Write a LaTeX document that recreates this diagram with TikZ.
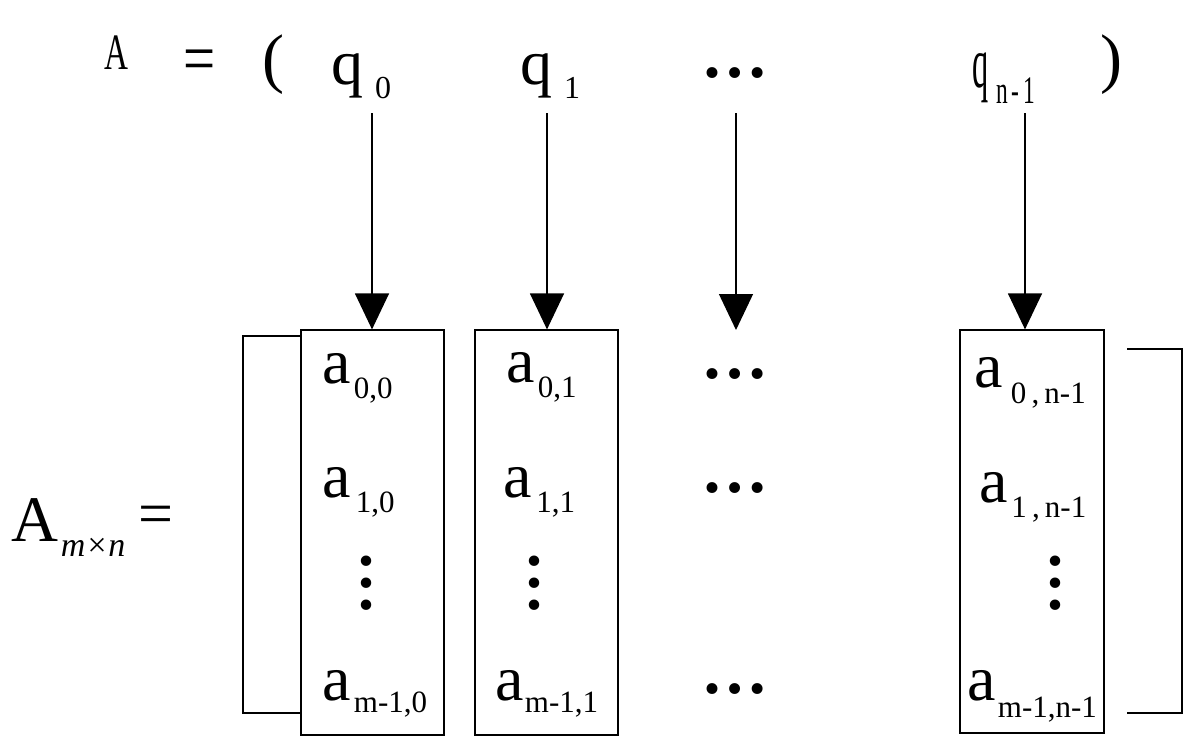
\documentclass[tikz,border=0pt]{standalone}
\usepackage{fontspec}
\setmainfont{Liberation Serif}
\usetikzlibrary{arrows.meta}
\newcommand\mEnt[3]{a\hspace{#3pt}\raisebox{-#2pt}{\fontsize{31}{31}\selectfont #1}}
\tikzset{
  txt/.style={inner sep=0pt, outer sep=0pt, anchor=base west},
  big/.style={font=\fontsize{64}{64}\selectfont},
  colbox/.style={draw, line width=1.2pt, inner sep=0pt, minimum width=143pt, minimum height=405pt},
  arr/.style={line width=1.3pt, -{Triangle[width=34pt,length=36pt]}},
  brk/.style={line width=1.1pt},
  hdots/.style={inner sep=0pt, anchor=center, font=\fontsize{67}{67}\selectfont\bfseries},
  vdotsn/.style={inner sep=0pt, anchor=center, align=center, font=\fontsize{64}{22}\selectfont\bfseries}
}
\begin{document}
\begin{tikzpicture}[x=1pt,y=-1pt]
\useasboundingbox (0,0) rectangle (1184,739);
% top row
\node[txt, font=\fontsize{51}{51}\selectfont] (Atop) at (104,69) {\scalebox{0.65}[1]{A}};
\node[txt, font=\fontsize{57}{57}\selectfont] (eqtop) at (183,82) {\scalebox{1}[1.25]{=}};
\node[txt, font=\fontsize{66}{66}\selectfont] (lp) at (262,80) {(};
\node[txt, big] (q0) at (331,84) {q\hspace{12pt}\raisebox{-14pt}{\fontsize{32}{32}\selectfont 0}};
\node[txt, big] (q1) at (520,84) {q\hspace{12pt}\raisebox{-14pt}{\fontsize{32}{32}\selectfont 1}};
\node[hdots] (qd) at (734.5,73) {…};
\node[txt, font=\fontsize{72}{72}\selectfont] (qn) at (972,87) {\scalebox{0.45}[1]{q}\hspace{8pt}\raisebox{-16pt}{\scalebox{0.6}[1]{\fontsize{39}{39}\selectfont n\,-\,1}}};
\node[txt, font=\fontsize{66}{66}\selectfont] (rp) at (1100,80) {)};
% arrow starts and the free end
\coordinate (s0) at (372,113);
\coordinate (s1) at (547,113);
\coordinate (s2) at (736,113);
\coordinate (s3) at (1025,113);
\coordinate (e2) at (736,330);
% column boxes
\node[colbox] (c0) at (372.5,532.5) {};
\node[colbox] (c1) at (546.5,532.5) {};
\node[colbox, minimum width=144pt, minimum height=403pt] (c3) at (1032,531.5) {};
% arrows
\draw[arr] (s0) -- (s0 |- c0.north);
\draw[arr] (s1) -- (s1 |- c1.north);
\draw[arr] (s2) -- (e2);
\draw[arr] (s3) -- (s3 |- c3.north);
% brackets
\draw[brk] (301,336) -- (243,336) -- (243,713) -- (301,713);
\draw[brk] (1127,349) -- (1182,349) -- (1182,713) -- (1127,713);
% left label
\node[txt, font=\fontsize{65}{65}\selectfont] (Amn) at (11,541) {A\hspace{3pt}\raisebox{-15pt}{\fontsize{34}{34}\selectfont\itshape m×n}};
\node[txt, font=\fontsize{62}{62}\selectfont] (eqmn) at (138,534) {=};
% column 0 entries
\node[txt, big] (a00) at (322.5,383) {\mEnt{0,0}{15}{3}};
\node[txt, big] (a10) at (322.5,497) {\mEnt{1,0}{15}{5}};
\node[vdotsn] (v0) at (366,583) {.\\.\\.};
\node[txt, big] (am0) at (322.5,700) {\mEnt{m-1,0}{12}{3}};
% column 1 entries
\node[txt, big] (a01) at (506.5,382) {\mEnt{0,1}{15}{3}};
\node[txt, big] (a11) at (503.5,497) {\mEnt{1,1}{15}{4.5}};
\node[vdotsn] (v1) at (534,583) {.\\.\\.};
\node[txt, big] (am1) at (495.5,700) {\mEnt{m-1,1}{12}{1}};
% middle column dots
\node[hdots] (d0) at (734.5,374) {…};
\node[hdots] (d1) at (734.5,488) {…};
\node[hdots] (dm) at (734.5,689) {…};
% last column entries
\node[txt, big] (a0n) at (974.5,387) {\mEnt{0\,,\,n-1}{16}{8}};
\node[txt, big] (a1n) at (979.5,502) {\mEnt{1\,,\,n-1}{15}{3.5}};
\node[vdotsn] (vn) at (1055,583) {.\\.\\.};
\node[txt, big] (amn) at (967.5,700) {\mEnt{m-1,n-1}{17}{2}};
\end{tikzpicture}
\end{document}
